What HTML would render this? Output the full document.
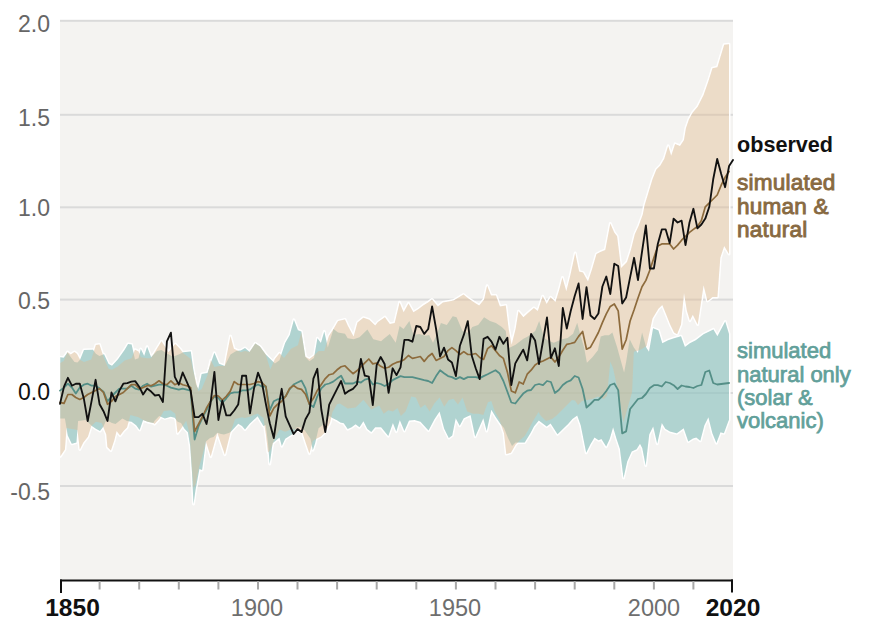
<!DOCTYPE html>
<html><head><meta charset="utf-8">
<style>
html,body{margin:0;padding:0;background:#fff;}
body{width:870px;height:631px;overflow:hidden;position:relative;}
svg{position:absolute;left:0;top:0;}
text{font-family:"Liberation Sans",sans-serif;}
</style></head><body>
<svg width="870" height="631" viewBox="0 0 870 631">
<rect x="0" y="0" width="870" height="631" fill="#ffffff"/>
<rect x="60" y="20" width="673" height="560" fill="#f4f3f1"/>
<rect x="60" y="19.8" width="673" height="2" fill="#dadada"/>
<rect x="60" y="113.8" width="673" height="2" fill="#dadada"/>
<rect x="60" y="206.3" width="673" height="2" fill="#dadada"/>
<rect x="60" y="298.6" width="673" height="2" fill="#dadada"/>
<rect x="60" y="392" width="673" height="2" fill="#dadada"/>
<rect x="60" y="485" width="673" height="2" fill="#dadada"/>
<defs><clipPath id="cu"><polygon points="60.3,357.3 63.7,357.7 67.5,352.5 70.7,357 74.5,362 77.5,362.5 80.2,359.6 84,350.1 92.9,349.8 95.9,353.7 99.4,356 104,354.3 108.6,364.1 112,365.8 117.8,359.5 124.7,349.7 128.1,344 131.6,344.5 135,359.5 138.5,358.3 140.8,349.1 144.2,356 147.1,346.8 151.1,357.2 156.9,351 161.5,349.9 164.9,352.2 173,356.8 178.7,354.5 183.3,352.2 190.8,351.6 193.1,368.3 196,384.4 198.3,389 201.7,374 207.5,372.9 214.4,352.8 219,363.7 224.7,366 230.5,354.5 236.2,351 240.8,350.5 245,348.1 249.6,352.1 255.3,343.5 259.9,346.4 265.7,354.4 270.3,359 274.9,363.6 279.5,360.2 285.2,342.9 289.8,334.9 293.9,319.9 297.9,330.3 301.3,331.4 305.3,356.7 309.4,361.3 314,357.9 317.4,338.3 320.9,342.9 324.3,331.4 327.8,347.5 333.5,329.1 338.1,332.6 345,333.7 347.7,338.3 353.6,339.3 359.5,337.3 367.4,329.5 373.3,339.3 381.1,341.3 383.9,338.8 389.8,333.9 395.7,342.7 399.6,326 403.6,329 409.4,321.1 413.4,334.9 419.3,333.9 425.2,335.8 429.1,334.9 433,342.7 437,333.9 440.9,323.1 446.8,325 452.7,316.2 456.6,317.2 462.5,330.9 468.4,332.9 472.3,327 478.2,325 484.1,317.2 490,321.1 495.9,323.1 501.8,327 505.8,330.9 507.7,348.6 515.6,344.7 523.4,338.8 527.4,336.8 535.2,330.9 539.2,321.1 544.1,337.9 548.3,340.7 553.8,342.8 562.1,339.3 567.6,337.9 573.1,333.8 577.2,322.8 580,333.8 584.1,347.6 586.9,362.8 592.4,357.2 597.9,350.3 600.7,336.6 604.8,335.2 609,335.2 612.4,332.4 617.2,347.6 621.4,362.8 624.1,372.4 626.2,361.4 629.7,339.3 633.8,347.6 637.9,353.1 642.1,332.4 646.2,347.6 649,351.7 653.1,328.3 658.4,330.4 662.3,343.2 668.2,340.2 674.1,338.3 681,336.3 684.9,347.1 689.9,343.2 695.8,340.2 703.6,334.3 713.4,329.4 717.4,336.3 725.2,321.6 729,334 729,420 728.5,420.7 723.9,433.3 720.5,432.2 716.4,443.1 712.4,433.3 708.4,417.2 704.4,425.3 700.3,440.8 696.3,437.4 692.9,438.5 688.3,441.4 683.7,428.2 676.8,433.3 669.9,431.6 665.3,428.7 661.8,423 657.2,443.7 653.2,426.4 649.2,434.5 645.7,465.5 642.3,448.3 640,443.7 636.6,449.3 631.7,451.4 627.2,461.4 623.5,477.9 619.9,448.7 616.6,439 613.1,427.2 609.7,439 606.2,446.6 601.4,439 598.6,440.3 594.5,437.6 590.3,444.5 586.2,452.8 580.7,425.2 577.2,415.5 572.4,419 568.3,423.8 563.4,428.4 557.5,434.3 550.6,423.5 546.7,426.5 538.8,420.6 533.9,426.5 530.4,433.3 524.7,442.5 520.1,442.5 515.5,442.5 512,446 508,438 504,428 500.5,424.1 495.9,417.2 491.3,409.7 486.7,431 483.3,418.3 475.2,436.7 470.6,414.9 463.7,418.3 459.7,425.8 455.7,418.3 452.2,435.6 448.8,437.9 444.2,428.7 439.6,411.4 434.3,419.5 428.5,430.4 420.5,421.8 414.7,420.1 409,420.6 404.4,431 399.8,420.1 396.3,431.6 392.9,422.9 388.3,436.1 381.1,427.2 375.2,427.2 371.3,432.1 367.4,429.1 363.4,421.3 359.5,427.2 355.6,424.2 351.6,427.2 347.7,429.1 343.8,423.2 340.4,422.6 337,420.3 332.4,418 328.9,415.7 324.3,423.7 318.6,428.3 315.1,443.3 312.8,450.2 310.5,438.7 304.8,430.6 300.2,427.2 296.7,427.2 292.7,434.1 288.7,436.4 285.2,438.7 281.8,446.1 279.5,437.5 272.6,443.3 269.7,464 268,443.3 265.7,424.9 263.4,426 257.6,416.3 249.6,423.7 245,429.5 242,426 238.2,423.8 230.6,431.9 228.7,433 224,434.5 221,434 217.3,432.8 213.5,437 210,438 205.9,441.4 202.1,470 199.4,469 195.5,490 193.5,504 192,472.5 190.2,446 187.9,432.2 184.5,428.7 181,423 177.6,421.8 174.7,417.8 170.7,416.7 164.9,418.4 159.2,416.1 154.6,420.7 153.4,423 147.7,421.8 143.1,420.1 139.6,429.9 136.2,425.3 131.6,421.8 127,421 122.4,418.4 115.5,424.1 112,423 106.3,420 103.4,426.4 100,431 95.9,428.7 91.9,425.9 85.6,420.1 78.1,421 76.4,442.5 71.8,443.7 67.8,435.4 64.9,418.4 60.3,418.4"/><polygon points="60.3,363 63.7,361 67.5,352 70.7,354.6 74.5,352 77,354 80.2,360 84,362 91.3,359.5 95.9,345.1 99.4,344.5 104,358.3 108.6,368.7 112,369.8 117.8,366.4 124.7,360.6 131.6,358.3 135,349.7 138.5,351.4 140.8,357.2 147.1,358.3 151.1,358.3 156.9,348.7 161.5,341.3 164.9,346.4 168.4,352.2 175.3,344.1 179.9,348.7 183.3,353.3 190.8,359.1 193.1,370.6 198.3,391.3 201.7,389 207.5,375.2 210.9,360.2 214.4,367.1 219,366 224.7,366 230.5,336.1 233.9,348.7 240.8,352.2 245,351 249.6,352.1 255.3,343.5 259.9,346.4 265.7,354.4 270.3,369.4 274.9,359 279.5,353.3 284.1,357.9 291,348.7 297.9,345.2 301.3,332.6 305.3,356.7 309.4,359 314,355.6 318.6,351 324.3,351 328.9,336.1 333.5,329.1 338.1,321.1 345,319.4 347.7,325.6 353.6,336.4 357.5,322.6 363.4,317.7 369.3,319.7 375.2,325.6 378,322.1 384.9,317.2 389.8,324 394.7,323.1 399.6,302.4 403.6,312.3 408.5,303.4 413.4,312.3 418.3,309.3 423.2,305.4 428.1,302.4 432,299.5 437.9,306.4 442.9,302.4 448.8,301.4 453.7,300.5 458.6,297.5 463.5,294.6 468.4,298.5 474.3,302.4 479.2,305.4 484.1,299.5 487.1,285.7 491,295.6 495.9,295.6 499.9,306.4 505.8,305.4 508.7,329 511.6,344.7 515.6,329 518.5,311.3 523.4,317.2 528,312.9 533.9,308 537.8,311 542.7,296.2 546.7,304 550.6,297.2 555.5,302 559.4,289.3 562.4,277.5 566.3,291.3 570.3,275.5 575.2,253 579.1,271.6 583,272.6 588,281.4 591.9,269.7 596.5,254 600.4,252 605.3,250 610.3,223.5 614.2,232.4 617.1,236.3 621,268 627,261.9 630.9,250 634.8,234.3 638.8,225.5 642.7,214.7 644.7,204.9 652.5,179.3 656.4,169.5 660.4,165.6 664.3,158.7 668.2,145.9 671.2,155.7 675.1,143.9 680,145.9 684,140 685.9,128.3 688.9,119.4 692.8,112.5 697.7,106.7 703.6,94.9 708.5,81.1 712.5,68.3 717.4,67.3 720.3,57.5 724.2,44.7 729,44.2 729,254 724.2,245.9 720.3,257.7 717.4,297 712.5,297 707.5,300.9 703.6,285.2 697.7,324.5 692.8,314.7 689.9,320.6 686.9,310.8 684,293.1 681,324.5 677.1,334.3 674.1,332.4 670.2,324.5 666.3,314.7 662.3,304.9 658.4,308.8 652.5,318.6 646.6,346.1 640,350 633.8,351.7 632.1,392 623.5,422.5 617.8,390 613.1,368.3 610.3,361.4 607,396 604,399 597.9,396.6 592,399 587,400 582,401 578,405 575,400.5 572,400 568,404 562,410 556,416 552,419 546,421 541,416 538.5,412 533,421 528,430.4 524.7,436 520.1,440 515.5,444.8 510.9,452.8 506.3,454 504,433.3 499.4,419.5 494.8,411.4 491.3,401.1 487.9,402.2 483.3,414.9 478.7,413.7 472.9,413.7 467.2,411.4 462.6,397.6 458,404.5 453.4,398.8 448.8,399.9 444.2,406.8 439.6,397.6 434.3,403.4 429.7,411.4 425.1,404.5 420.5,408 415.9,397.6 411.3,396.5 405.5,411.4 400.9,416 397.5,408 392.9,411.4 388.3,410.3 383.7,413.7 379.2,405.6 371.3,409.5 363.4,399.7 355.6,407.5 347.7,408.5 339.9,403.6 337,404.2 332.4,412.2 330.1,422.6 325.5,431.8 320.9,436.4 316.3,438.7 312.8,441 309.4,453.6 305.9,443.3 302.5,432.9 296.7,429.5 291,429.5 285.2,431.8 279.5,429.5 273.7,441 270.3,450.2 268,452.5 265.7,432.9 263.4,418 257.6,413.4 249.6,416.8 245,418 242,417.2 235.1,419 230.6,431.9 224.9,454.7 217.3,432.8 210.7,456.6 205.9,441.4 202.5,455 199.4,466 195.5,484 193.5,488 192,468 189.7,434.5 186.2,420.7 181,428.7 177.6,433.3 175.3,413.8 170.7,410.3 163.8,410.9 159.2,419 154.6,424.1 153.4,423 147.7,421.8 143.1,420.1 138.5,417.2 130.4,414.9 127,427.6 123.5,431 120.1,435.6 116.6,431 114.3,440.2 110.9,450.6 107.4,447.1 106.3,434.5 101.7,423 95.9,421.8 91.3,425.9 87.9,436.8 83.3,442.5 79.8,449.4 77.5,430 72,429 66.5,428 64.9,449.4 60.3,456.3"/></clipPath></defs>
<g stroke="#ffffff" stroke-width="3" stroke-linejoin="round" fill="#ffffff">
<polygon points="60.3,357.3 63.7,357.7 67.5,352.5 70.7,357 74.5,362 77.5,362.5 80.2,359.6 84,350.1 92.9,349.8 95.9,353.7 99.4,356 104,354.3 108.6,364.1 112,365.8 117.8,359.5 124.7,349.7 128.1,344 131.6,344.5 135,359.5 138.5,358.3 140.8,349.1 144.2,356 147.1,346.8 151.1,357.2 156.9,351 161.5,349.9 164.9,352.2 173,356.8 178.7,354.5 183.3,352.2 190.8,351.6 193.1,368.3 196,384.4 198.3,389 201.7,374 207.5,372.9 214.4,352.8 219,363.7 224.7,366 230.5,354.5 236.2,351 240.8,350.5 245,348.1 249.6,352.1 255.3,343.5 259.9,346.4 265.7,354.4 270.3,359 274.9,363.6 279.5,360.2 285.2,342.9 289.8,334.9 293.9,319.9 297.9,330.3 301.3,331.4 305.3,356.7 309.4,361.3 314,357.9 317.4,338.3 320.9,342.9 324.3,331.4 327.8,347.5 333.5,329.1 338.1,332.6 345,333.7 347.7,338.3 353.6,339.3 359.5,337.3 367.4,329.5 373.3,339.3 381.1,341.3 383.9,338.8 389.8,333.9 395.7,342.7 399.6,326 403.6,329 409.4,321.1 413.4,334.9 419.3,333.9 425.2,335.8 429.1,334.9 433,342.7 437,333.9 440.9,323.1 446.8,325 452.7,316.2 456.6,317.2 462.5,330.9 468.4,332.9 472.3,327 478.2,325 484.1,317.2 490,321.1 495.9,323.1 501.8,327 505.8,330.9 507.7,348.6 515.6,344.7 523.4,338.8 527.4,336.8 535.2,330.9 539.2,321.1 544.1,337.9 548.3,340.7 553.8,342.8 562.1,339.3 567.6,337.9 573.1,333.8 577.2,322.8 580,333.8 584.1,347.6 586.9,362.8 592.4,357.2 597.9,350.3 600.7,336.6 604.8,335.2 609,335.2 612.4,332.4 617.2,347.6 621.4,362.8 624.1,372.4 626.2,361.4 629.7,339.3 633.8,347.6 637.9,353.1 642.1,332.4 646.2,347.6 649,351.7 653.1,328.3 658.4,330.4 662.3,343.2 668.2,340.2 674.1,338.3 681,336.3 684.9,347.1 689.9,343.2 695.8,340.2 703.6,334.3 713.4,329.4 717.4,336.3 725.2,321.6 729,334 729,420 728.5,420.7 723.9,433.3 720.5,432.2 716.4,443.1 712.4,433.3 708.4,417.2 704.4,425.3 700.3,440.8 696.3,437.4 692.9,438.5 688.3,441.4 683.7,428.2 676.8,433.3 669.9,431.6 665.3,428.7 661.8,423 657.2,443.7 653.2,426.4 649.2,434.5 645.7,465.5 642.3,448.3 640,443.7 636.6,449.3 631.7,451.4 627.2,461.4 623.5,477.9 619.9,448.7 616.6,439 613.1,427.2 609.7,439 606.2,446.6 601.4,439 598.6,440.3 594.5,437.6 590.3,444.5 586.2,452.8 580.7,425.2 577.2,415.5 572.4,419 568.3,423.8 563.4,428.4 557.5,434.3 550.6,423.5 546.7,426.5 538.8,420.6 533.9,426.5 530.4,433.3 524.7,442.5 520.1,442.5 515.5,442.5 512,446 508,438 504,428 500.5,424.1 495.9,417.2 491.3,409.7 486.7,431 483.3,418.3 475.2,436.7 470.6,414.9 463.7,418.3 459.7,425.8 455.7,418.3 452.2,435.6 448.8,437.9 444.2,428.7 439.6,411.4 434.3,419.5 428.5,430.4 420.5,421.8 414.7,420.1 409,420.6 404.4,431 399.8,420.1 396.3,431.6 392.9,422.9 388.3,436.1 381.1,427.2 375.2,427.2 371.3,432.1 367.4,429.1 363.4,421.3 359.5,427.2 355.6,424.2 351.6,427.2 347.7,429.1 343.8,423.2 340.4,422.6 337,420.3 332.4,418 328.9,415.7 324.3,423.7 318.6,428.3 315.1,443.3 312.8,450.2 310.5,438.7 304.8,430.6 300.2,427.2 296.7,427.2 292.7,434.1 288.7,436.4 285.2,438.7 281.8,446.1 279.5,437.5 272.6,443.3 269.7,464 268,443.3 265.7,424.9 263.4,426 257.6,416.3 249.6,423.7 245,429.5 242,426 238.2,423.8 230.6,431.9 228.7,433 224,434.5 221,434 217.3,432.8 213.5,437 210,438 205.9,441.4 202.1,470 199.4,469 195.5,490 193.5,504 192,472.5 190.2,446 187.9,432.2 184.5,428.7 181,423 177.6,421.8 174.7,417.8 170.7,416.7 164.9,418.4 159.2,416.1 154.6,420.7 153.4,423 147.7,421.8 143.1,420.1 139.6,429.9 136.2,425.3 131.6,421.8 127,421 122.4,418.4 115.5,424.1 112,423 106.3,420 103.4,426.4 100,431 95.9,428.7 91.9,425.9 85.6,420.1 78.1,421 76.4,442.5 71.8,443.7 67.8,435.4 64.9,418.4 60.3,418.4"/>
<polygon points="60.3,363 63.7,361 67.5,352 70.7,354.6 74.5,352 77,354 80.2,360 84,362 91.3,359.5 95.9,345.1 99.4,344.5 104,358.3 108.6,368.7 112,369.8 117.8,366.4 124.7,360.6 131.6,358.3 135,349.7 138.5,351.4 140.8,357.2 147.1,358.3 151.1,358.3 156.9,348.7 161.5,341.3 164.9,346.4 168.4,352.2 175.3,344.1 179.9,348.7 183.3,353.3 190.8,359.1 193.1,370.6 198.3,391.3 201.7,389 207.5,375.2 210.9,360.2 214.4,367.1 219,366 224.7,366 230.5,336.1 233.9,348.7 240.8,352.2 245,351 249.6,352.1 255.3,343.5 259.9,346.4 265.7,354.4 270.3,369.4 274.9,359 279.5,353.3 284.1,357.9 291,348.7 297.9,345.2 301.3,332.6 305.3,356.7 309.4,359 314,355.6 318.6,351 324.3,351 328.9,336.1 333.5,329.1 338.1,321.1 345,319.4 347.7,325.6 353.6,336.4 357.5,322.6 363.4,317.7 369.3,319.7 375.2,325.6 378,322.1 384.9,317.2 389.8,324 394.7,323.1 399.6,302.4 403.6,312.3 408.5,303.4 413.4,312.3 418.3,309.3 423.2,305.4 428.1,302.4 432,299.5 437.9,306.4 442.9,302.4 448.8,301.4 453.7,300.5 458.6,297.5 463.5,294.6 468.4,298.5 474.3,302.4 479.2,305.4 484.1,299.5 487.1,285.7 491,295.6 495.9,295.6 499.9,306.4 505.8,305.4 508.7,329 511.6,344.7 515.6,329 518.5,311.3 523.4,317.2 528,312.9 533.9,308 537.8,311 542.7,296.2 546.7,304 550.6,297.2 555.5,302 559.4,289.3 562.4,277.5 566.3,291.3 570.3,275.5 575.2,253 579.1,271.6 583,272.6 588,281.4 591.9,269.7 596.5,254 600.4,252 605.3,250 610.3,223.5 614.2,232.4 617.1,236.3 621,268 627,261.9 630.9,250 634.8,234.3 638.8,225.5 642.7,214.7 644.7,204.9 652.5,179.3 656.4,169.5 660.4,165.6 664.3,158.7 668.2,145.9 671.2,155.7 675.1,143.9 680,145.9 684,140 685.9,128.3 688.9,119.4 692.8,112.5 697.7,106.7 703.6,94.9 708.5,81.1 712.5,68.3 717.4,67.3 720.3,57.5 724.2,44.7 729,44.2 729,254 724.2,245.9 720.3,257.7 717.4,297 712.5,297 707.5,300.9 703.6,285.2 697.7,324.5 692.8,314.7 689.9,320.6 686.9,310.8 684,293.1 681,324.5 677.1,334.3 674.1,332.4 670.2,324.5 666.3,314.7 662.3,304.9 658.4,308.8 652.5,318.6 646.6,346.1 640,350 633.8,351.7 632.1,392 623.5,422.5 617.8,390 613.1,368.3 610.3,361.4 607,396 604,399 597.9,396.6 592,399 587,400 582,401 578,405 575,400.5 572,400 568,404 562,410 556,416 552,419 546,421 541,416 538.5,412 533,421 528,430.4 524.7,436 520.1,440 515.5,444.8 510.9,452.8 506.3,454 504,433.3 499.4,419.5 494.8,411.4 491.3,401.1 487.9,402.2 483.3,414.9 478.7,413.7 472.9,413.7 467.2,411.4 462.6,397.6 458,404.5 453.4,398.8 448.8,399.9 444.2,406.8 439.6,397.6 434.3,403.4 429.7,411.4 425.1,404.5 420.5,408 415.9,397.6 411.3,396.5 405.5,411.4 400.9,416 397.5,408 392.9,411.4 388.3,410.3 383.7,413.7 379.2,405.6 371.3,409.5 363.4,399.7 355.6,407.5 347.7,408.5 339.9,403.6 337,404.2 332.4,412.2 330.1,422.6 325.5,431.8 320.9,436.4 316.3,438.7 312.8,441 309.4,453.6 305.9,443.3 302.5,432.9 296.7,429.5 291,429.5 285.2,431.8 279.5,429.5 273.7,441 270.3,450.2 268,452.5 265.7,432.9 263.4,418 257.6,413.4 249.6,416.8 245,418 242,417.2 235.1,419 230.6,431.9 224.9,454.7 217.3,432.8 210.7,456.6 205.9,441.4 202.5,455 199.4,466 195.5,484 193.5,488 192,468 189.7,434.5 186.2,420.7 181,428.7 177.6,433.3 175.3,413.8 170.7,410.3 163.8,410.9 159.2,419 154.6,424.1 153.4,423 147.7,421.8 143.1,420.1 138.5,417.2 130.4,414.9 127,427.6 123.5,431 120.1,435.6 116.6,431 114.3,440.2 110.9,450.6 107.4,447.1 106.3,434.5 101.7,423 95.9,421.8 91.3,425.9 87.9,436.8 83.3,442.5 79.8,449.4 77.5,430 72,429 66.5,428 64.9,449.4 60.3,456.3"/>
</g>
<g clip-path="url(#cu)">
<rect x="60" y="20" width="673" height="560" fill="#f4f3f1"/>
<rect x="60" y="19.8" width="673" height="2" fill="#dadada"/>
<rect x="60" y="113.8" width="673" height="2" fill="#dadada"/>
<rect x="60" y="206.3" width="673" height="2" fill="#dadada"/>
<rect x="60" y="298.6" width="673" height="2" fill="#dadada"/>
<rect x="60" y="392" width="673" height="2" fill="#dadada"/>
<rect x="60" y="485" width="673" height="2" fill="#dadada"/>
</g>
<polygon points="60.3,357.3 63.7,357.7 67.5,352.5 70.7,357 74.5,362 77.5,362.5 80.2,359.6 84,350.1 92.9,349.8 95.9,353.7 99.4,356 104,354.3 108.6,364.1 112,365.8 117.8,359.5 124.7,349.7 128.1,344 131.6,344.5 135,359.5 138.5,358.3 140.8,349.1 144.2,356 147.1,346.8 151.1,357.2 156.9,351 161.5,349.9 164.9,352.2 173,356.8 178.7,354.5 183.3,352.2 190.8,351.6 193.1,368.3 196,384.4 198.3,389 201.7,374 207.5,372.9 214.4,352.8 219,363.7 224.7,366 230.5,354.5 236.2,351 240.8,350.5 245,348.1 249.6,352.1 255.3,343.5 259.9,346.4 265.7,354.4 270.3,359 274.9,363.6 279.5,360.2 285.2,342.9 289.8,334.9 293.9,319.9 297.9,330.3 301.3,331.4 305.3,356.7 309.4,361.3 314,357.9 317.4,338.3 320.9,342.9 324.3,331.4 327.8,347.5 333.5,329.1 338.1,332.6 345,333.7 347.7,338.3 353.6,339.3 359.5,337.3 367.4,329.5 373.3,339.3 381.1,341.3 383.9,338.8 389.8,333.9 395.7,342.7 399.6,326 403.6,329 409.4,321.1 413.4,334.9 419.3,333.9 425.2,335.8 429.1,334.9 433,342.7 437,333.9 440.9,323.1 446.8,325 452.7,316.2 456.6,317.2 462.5,330.9 468.4,332.9 472.3,327 478.2,325 484.1,317.2 490,321.1 495.9,323.1 501.8,327 505.8,330.9 507.7,348.6 515.6,344.7 523.4,338.8 527.4,336.8 535.2,330.9 539.2,321.1 544.1,337.9 548.3,340.7 553.8,342.8 562.1,339.3 567.6,337.9 573.1,333.8 577.2,322.8 580,333.8 584.1,347.6 586.9,362.8 592.4,357.2 597.9,350.3 600.7,336.6 604.8,335.2 609,335.2 612.4,332.4 617.2,347.6 621.4,362.8 624.1,372.4 626.2,361.4 629.7,339.3 633.8,347.6 637.9,353.1 642.1,332.4 646.2,347.6 649,351.7 653.1,328.3 658.4,330.4 662.3,343.2 668.2,340.2 674.1,338.3 681,336.3 684.9,347.1 689.9,343.2 695.8,340.2 703.6,334.3 713.4,329.4 717.4,336.3 725.2,321.6 729,334 729,420 728.5,420.7 723.9,433.3 720.5,432.2 716.4,443.1 712.4,433.3 708.4,417.2 704.4,425.3 700.3,440.8 696.3,437.4 692.9,438.5 688.3,441.4 683.7,428.2 676.8,433.3 669.9,431.6 665.3,428.7 661.8,423 657.2,443.7 653.2,426.4 649.2,434.5 645.7,465.5 642.3,448.3 640,443.7 636.6,449.3 631.7,451.4 627.2,461.4 623.5,477.9 619.9,448.7 616.6,439 613.1,427.2 609.7,439 606.2,446.6 601.4,439 598.6,440.3 594.5,437.6 590.3,444.5 586.2,452.8 580.7,425.2 577.2,415.5 572.4,419 568.3,423.8 563.4,428.4 557.5,434.3 550.6,423.5 546.7,426.5 538.8,420.6 533.9,426.5 530.4,433.3 524.7,442.5 520.1,442.5 515.5,442.5 512,446 508,438 504,428 500.5,424.1 495.9,417.2 491.3,409.7 486.7,431 483.3,418.3 475.2,436.7 470.6,414.9 463.7,418.3 459.7,425.8 455.7,418.3 452.2,435.6 448.8,437.9 444.2,428.7 439.6,411.4 434.3,419.5 428.5,430.4 420.5,421.8 414.7,420.1 409,420.6 404.4,431 399.8,420.1 396.3,431.6 392.9,422.9 388.3,436.1 381.1,427.2 375.2,427.2 371.3,432.1 367.4,429.1 363.4,421.3 359.5,427.2 355.6,424.2 351.6,427.2 347.7,429.1 343.8,423.2 340.4,422.6 337,420.3 332.4,418 328.9,415.7 324.3,423.7 318.6,428.3 315.1,443.3 312.8,450.2 310.5,438.7 304.8,430.6 300.2,427.2 296.7,427.2 292.7,434.1 288.7,436.4 285.2,438.7 281.8,446.1 279.5,437.5 272.6,443.3 269.7,464 268,443.3 265.7,424.9 263.4,426 257.6,416.3 249.6,423.7 245,429.5 242,426 238.2,423.8 230.6,431.9 228.7,433 224,434.5 221,434 217.3,432.8 213.5,437 210,438 205.9,441.4 202.1,470 199.4,469 195.5,490 193.5,504 192,472.5 190.2,446 187.9,432.2 184.5,428.7 181,423 177.6,421.8 174.7,417.8 170.7,416.7 164.9,418.4 159.2,416.1 154.6,420.7 153.4,423 147.7,421.8 143.1,420.1 139.6,429.9 136.2,425.3 131.6,421.8 127,421 122.4,418.4 115.5,424.1 112,423 106.3,420 103.4,426.4 100,431 95.9,428.7 91.9,425.9 85.6,420.1 78.1,421 76.4,442.5 71.8,443.7 67.8,435.4 64.9,418.4 60.3,418.4" fill="rgb(147,196,194)" fill-opacity="0.7"/>
<polygon points="60.3,363 63.7,361 67.5,352 70.7,354.6 74.5,352 77,354 80.2,360 84,362 91.3,359.5 95.9,345.1 99.4,344.5 104,358.3 108.6,368.7 112,369.8 117.8,366.4 124.7,360.6 131.6,358.3 135,349.7 138.5,351.4 140.8,357.2 147.1,358.3 151.1,358.3 156.9,348.7 161.5,341.3 164.9,346.4 168.4,352.2 175.3,344.1 179.9,348.7 183.3,353.3 190.8,359.1 193.1,370.6 198.3,391.3 201.7,389 207.5,375.2 210.9,360.2 214.4,367.1 219,366 224.7,366 230.5,336.1 233.9,348.7 240.8,352.2 245,351 249.6,352.1 255.3,343.5 259.9,346.4 265.7,354.4 270.3,369.4 274.9,359 279.5,353.3 284.1,357.9 291,348.7 297.9,345.2 301.3,332.6 305.3,356.7 309.4,359 314,355.6 318.6,351 324.3,351 328.9,336.1 333.5,329.1 338.1,321.1 345,319.4 347.7,325.6 353.6,336.4 357.5,322.6 363.4,317.7 369.3,319.7 375.2,325.6 378,322.1 384.9,317.2 389.8,324 394.7,323.1 399.6,302.4 403.6,312.3 408.5,303.4 413.4,312.3 418.3,309.3 423.2,305.4 428.1,302.4 432,299.5 437.9,306.4 442.9,302.4 448.8,301.4 453.7,300.5 458.6,297.5 463.5,294.6 468.4,298.5 474.3,302.4 479.2,305.4 484.1,299.5 487.1,285.7 491,295.6 495.9,295.6 499.9,306.4 505.8,305.4 508.7,329 511.6,344.7 515.6,329 518.5,311.3 523.4,317.2 528,312.9 533.9,308 537.8,311 542.7,296.2 546.7,304 550.6,297.2 555.5,302 559.4,289.3 562.4,277.5 566.3,291.3 570.3,275.5 575.2,253 579.1,271.6 583,272.6 588,281.4 591.9,269.7 596.5,254 600.4,252 605.3,250 610.3,223.5 614.2,232.4 617.1,236.3 621,268 627,261.9 630.9,250 634.8,234.3 638.8,225.5 642.7,214.7 644.7,204.9 652.5,179.3 656.4,169.5 660.4,165.6 664.3,158.7 668.2,145.9 671.2,155.7 675.1,143.9 680,145.9 684,140 685.9,128.3 688.9,119.4 692.8,112.5 697.7,106.7 703.6,94.9 708.5,81.1 712.5,68.3 717.4,67.3 720.3,57.5 724.2,44.7 729,44.2 729,254 724.2,245.9 720.3,257.7 717.4,297 712.5,297 707.5,300.9 703.6,285.2 697.7,324.5 692.8,314.7 689.9,320.6 686.9,310.8 684,293.1 681,324.5 677.1,334.3 674.1,332.4 670.2,324.5 666.3,314.7 662.3,304.9 658.4,308.8 652.5,318.6 646.6,346.1 640,350 633.8,351.7 632.1,392 623.5,422.5 617.8,390 613.1,368.3 610.3,361.4 607,396 604,399 597.9,396.6 592,399 587,400 582,401 578,405 575,400.5 572,400 568,404 562,410 556,416 552,419 546,421 541,416 538.5,412 533,421 528,430.4 524.7,436 520.1,440 515.5,444.8 510.9,452.8 506.3,454 504,433.3 499.4,419.5 494.8,411.4 491.3,401.1 487.9,402.2 483.3,414.9 478.7,413.7 472.9,413.7 467.2,411.4 462.6,397.6 458,404.5 453.4,398.8 448.8,399.9 444.2,406.8 439.6,397.6 434.3,403.4 429.7,411.4 425.1,404.5 420.5,408 415.9,397.6 411.3,396.5 405.5,411.4 400.9,416 397.5,408 392.9,411.4 388.3,410.3 383.7,413.7 379.2,405.6 371.3,409.5 363.4,399.7 355.6,407.5 347.7,408.5 339.9,403.6 337,404.2 332.4,412.2 330.1,422.6 325.5,431.8 320.9,436.4 316.3,438.7 312.8,441 309.4,453.6 305.9,443.3 302.5,432.9 296.7,429.5 291,429.5 285.2,431.8 279.5,429.5 273.7,441 270.3,450.2 268,452.5 265.7,432.9 263.4,418 257.6,413.4 249.6,416.8 245,418 242,417.2 235.1,419 230.6,431.9 224.9,454.7 217.3,432.8 210.7,456.6 205.9,441.4 202.5,455 199.4,466 195.5,484 193.5,488 192,468 189.7,434.5 186.2,420.7 181,428.7 177.6,433.3 175.3,413.8 170.7,410.3 163.8,410.9 159.2,419 154.6,424.1 153.4,423 147.7,421.8 143.1,420.1 138.5,417.2 130.4,414.9 127,427.6 123.5,431 120.1,435.6 116.6,431 114.3,440.2 110.9,450.6 107.4,447.1 106.3,434.5 101.7,423 95.9,421.8 91.3,425.9 87.9,436.8 83.3,442.5 79.8,449.4 77.5,430 72,429 66.5,428 64.9,449.4 60.3,456.3" fill="rgb(224,184,140)" fill-opacity="0.4"/>
<g fill="none" stroke-linejoin="round" stroke-linecap="round">
<polyline points="60,390.6 64,387.6 67.9,383.7 71.9,387.6 75.8,393.5 79.8,387.6 83.8,384.7 87.7,383.7 91.7,385.7 95.6,385.7 99.6,388.6 103.5,391.6 107.5,401.4 111.5,396.5 115.4,392.5 119.4,388.6 123.3,388.6 127.3,388.6 131.3,385.7 135.2,388.6 139.2,389.6 143.1,385.7 147.1,383.7 151.1,386.7 155,385.7 159,384.7 162.9,384.7 166.9,385.7 170.9,387.6 174.8,388.6 178.8,389.6 182.7,388.6 186.7,389.6 190.6,390.6 194.6,439.5 198.6,426 202.5,417.5 206.5,410 210.4,402 214.4,396.5 218.4,398 222.3,403 226.3,398.3 230.2,393.4 234.2,392.4 238.2,392.4 242.1,390.4 246.1,390.4 250,389.4 254,386.5 258,384.5 261.9,386.5 265.9,386.5 269.8,410.1 273.8,401.2 277.7,399.3 281.7,398.3 285.7,396.3 289.6,389.4 293.6,384.5 297.5,382.5 301.5,380.6 305.5,388.4 309.4,404.2 313.4,407.1 317.3,396.3 321.3,388.4 325.3,384.5 329.2,383.5 333.2,381.6 337.1,378.6 341.1,375.7 345,383.5 349,383.5 353,383.5 356.9,381.6 360.9,382.5 364.8,379.6 368.8,378.6 372.8,384.5 376.7,383 380.7,384 384.6,386 388.6,384 392.6,380.1 396.5,378.1 400.5,376.1 404.4,377.1 408.4,377.1 412.4,377.1 416.3,378.1 420.3,379.1 424.2,380.1 428.2,381 432.1,383 436.1,376.1 440.1,370.2 444,373.2 448,376.1 451.9,377.1 455.9,379.1 459.9,377.1 463.8,379.1 467.8,377.1 471.7,377.1 475.7,377.1 479.7,378.1 483.6,376.1 487.6,374.2 491.5,372.2 495.5,370.2 499.4,373.2 503.4,381 507.4,391.7 511.3,402.5 515.3,403.5 519.2,398.5 523.2,393.6 527.2,390.7 531.1,390 535.1,385 539,384 543,385.2 547,381 550.9,382 554.9,393 558.8,390 562.8,385 566.8,382 570.7,380.3 574.7,376 578.6,377.5 582.6,389 586.5,407.5 590.5,404 594.5,399.9 598.4,399.9 602.4,396 606.3,391 610.3,385 614.3,383.5 618.2,390.1 622.2,433.4 626.1,431.4 630.1,409 634.1,404 638,399 642,398 645.9,394 649.9,388 653.9,385.2 657.8,385.2 661.8,386.5 665.7,382 669.7,383 673.6,385.2 677.6,389 681.6,385.5 685.5,386.5 689.5,387 693.4,388 697.4,386 701.4,385 705.3,372 709.3,370.5 713.2,383 717.2,384.5 721.2,384 725.1,383.5 729.1,383" stroke="#548f87" stroke-width="1.8"/>
<polyline points="60,402.4 64,403.4 67.9,394.5 71.9,394.5 75.8,397.5 79.8,399.4 83.8,397.5 87.7,394.5 91.7,392.5 95.6,390.6 99.6,388.6 103.5,392.5 107.5,404.3 111.5,401.4 115.4,396.5 119.4,394.5 123.3,392.5 127.3,388.6 131.3,384.7 135.2,384.7 139.2,388.6 143.1,387.6 147.1,385.7 151.1,385.7 155,383.7 159,380.8 162.9,383.7 166.9,384.7 170.9,380.8 174.8,384.7 178.8,382.7 182.7,384.7 186.7,385.7 190.6,387.6 194.6,431.5 198.6,424 202.5,416.5 206.5,408 210.4,401.5 214.4,395.5 218.4,396 222.3,400 226.3,396.3 230.2,391.4 234.2,381.6 238.2,384.5 242.1,384.5 246.1,384.5 250,384.5 254,383.5 258,381.6 261.9,382.5 265.9,386.5 269.8,416 273.8,408.1 277.7,404.2 281.7,401.2 285.7,396.3 289.6,388.4 293.6,385.5 297.5,388.4 301.5,389.4 305.5,394.3 309.4,404.2 313.4,398.3 317.3,390.4 321.3,384.5 325.3,378.6 329.2,374.7 333.2,373.7 337.1,369.8 341.1,366.8 345,365.8 349,369.8 353,373.7 356.9,370.8 360.9,366.8 364.8,362.9 368.8,359 372.8,363.9 376.7,363 380.7,366.3 384.6,368.3 388.6,367.3 392.6,364.3 396.5,362.4 400.5,361.4 404.4,359.4 408.4,355.5 412.4,358.4 416.3,357.5 420.3,356.5 424.2,361.4 428.2,356.5 432.1,353.5 436.1,360.4 440.1,358.4 444,356.5 448,350.6 451.9,347.6 455.9,350.6 459.9,354.5 463.8,351.6 467.8,354.5 471.7,354.5 475.7,353.5 479.7,357.5 483.6,359.4 487.6,348.6 491.5,345.7 495.5,350.6 499.4,355.5 503.4,358.4 507.4,372.2 511.3,390.9 515.3,392.8 519.2,382 523.2,384 527.2,374.2 531.1,370.2 535.1,365 539,362.4 543,361 547,359 550.9,357.1 554.9,362 558.8,357.1 562.8,350.2 566.8,344.3 570.7,343.5 574.7,342.4 578.6,336.4 582.6,331.5 586.5,349.2 590.5,347.2 594.5,339.8 598.4,332.5 602.4,322.6 606.3,313.8 610.3,306.4 614.3,304 618.2,310.9 622.2,349.2 626.1,340 630.1,321 634.1,309.8 638,298 642,286.8 645.9,280.4 649.9,270 653.9,257.8 657.8,246 661.8,243.9 665.7,243.9 669.7,243.9 673.6,249 677.6,245.1 681.6,240.2 685.5,236.3 689.5,232.4 693.4,229.4 697.4,226.5 701.4,220.6 705.3,206.8 709.3,202.9 713.2,199 717.2,195 721.2,185.2 725.1,177.3 729.1,171.4" stroke="#8d6b3c" stroke-width="1.7"/>
<polyline points="60,403.9 64,386.7 67.9,377.8 71.9,385.7 75.8,383.7 79.8,383.7 83.8,398.4 87.7,421 91.7,400.4 95.6,379.8 99.6,404.3 103.5,411.2 107.5,421 111.5,392.5 115.4,401.4 119.4,390.6 123.3,383.7 127.3,383.1 131.3,381.7 135.2,381.1 139.2,386.7 143.1,394.5 147.1,388.6 151.1,391.6 155,395.5 159,394.9 162.9,402 166.9,341.4 170.9,332.6 174.8,376.8 178.8,384.7 182.7,372.5 186.7,381.7 190.6,390.6 194.6,417.1 198.6,417.1 202.5,413.8 206.5,424 210.4,404.3 214.4,371.9 218.4,420 222.3,400.6 226.3,415.4 230.2,415.4 234.2,410.5 238.2,404.6 242.1,375.7 246.1,375.7 250,413.4 254,388.4 258,372.7 261.9,382.5 265.9,404.2 269.8,423.2 273.8,438 277.7,411.4 281.7,388.8 285.7,416.4 289.6,425.2 293.6,434 297.5,429.1 301.5,432.1 305.5,419.3 309.4,412.4 313.4,378.6 317.3,368.8 321.3,409.5 325.3,432.1 329.2,404.6 333.2,396.7 337.1,388.8 341.1,381 345,393.8 349,390.8 353,388.8 356.9,384.5 360.9,359 364.8,375.7 368.8,376.7 372.8,405.1 376.7,364.9 380.7,357 384.6,364 388.6,392.8 392.6,368.3 396.5,375.1 400.5,367.3 404.4,339.8 408.4,339.8 412.4,341.7 416.3,326 420.3,327 424.2,333.9 428.2,329 432.1,306.4 436.1,329 440.1,356.5 444,347.6 448,359.4 451.9,362.4 455.9,376.1 459.9,345.7 463.8,334.9 467.8,321.1 471.7,355.5 475.7,368.3 479.7,379.1 483.6,338.8 487.6,336.8 491.5,341.7 495.5,349.6 499.4,336.8 503.4,343.7 507.4,337.8 511.3,385 515.3,363.4 519.2,356.5 523.2,349.6 527.2,360.4 531.1,334 535.1,340.5 539,364 543,341 547,317.5 550.9,358 554.9,348.3 558.8,366 562.8,308 566.8,328.6 570.7,311 574.7,296 578.6,283.5 582.6,319 586.5,287.2 590.5,315.5 594.5,319 598.4,313.5 602.4,286.5 606.3,276.5 610.3,294 614.3,263.7 618.2,266 622.2,303.5 626.1,297.5 630.1,277.4 634.1,257.8 638,280 642,251.8 645.9,225.5 649.9,268.5 653.9,268.5 657.8,243.9 661.8,229.4 665.7,229.4 669.7,243.2 673.6,218.6 677.6,222.5 681.6,220.6 685.5,245.1 689.5,222.5 693.4,208.8 697.4,228.4 701.4,224.5 705.3,218.6 709.3,206.8 713.2,179.3 717.2,159 721.2,174 725.1,187.2 729.1,166 733,160" stroke="#111111" stroke-width="1.85"/>
</g>
<rect x="60" y="579.5" width="673" height="2" fill="#111"/>
<rect x="60" y="579.5" width="2" height="13.5" fill="#111"/>
<rect x="731" y="579.5" width="2" height="13" fill="#111"/>
<rect x="98.6" y="581" width="2" height="8.5" fill="#a8a8a8"/>
<rect x="138.2" y="581" width="2" height="8.5" fill="#a8a8a8"/>
<rect x="177.8" y="581" width="2" height="8.5" fill="#a8a8a8"/>
<rect x="217.4" y="581" width="2" height="8.5" fill="#a8a8a8"/>
<rect x="257" y="581" width="2" height="8.5" fill="#a8a8a8"/>
<rect x="296.5" y="581" width="2" height="8.5" fill="#a8a8a8"/>
<rect x="336.1" y="581" width="2" height="8.5" fill="#a8a8a8"/>
<rect x="375.7" y="581" width="2" height="8.5" fill="#a8a8a8"/>
<rect x="415.3" y="581" width="2" height="8.5" fill="#a8a8a8"/>
<rect x="454.9" y="581" width="2" height="8.5" fill="#a8a8a8"/>
<rect x="494.5" y="581" width="2" height="8.5" fill="#a8a8a8"/>
<rect x="534.1" y="581" width="2" height="8.5" fill="#a8a8a8"/>
<rect x="573.7" y="581" width="2" height="8.5" fill="#a8a8a8"/>
<rect x="613.3" y="581" width="2" height="8.5" fill="#a8a8a8"/>
<rect x="652.9" y="581" width="2" height="8.5" fill="#a8a8a8"/>
<rect x="692.4" y="581" width="2" height="8.5" fill="#a8a8a8"/>
<g font-size="23" fill="#666" text-anchor="end">
<text x="50" y="32">2.0</text>
<text x="50" y="125.5">1.5</text>
<text x="50" y="215.5">1.0</text>
<text x="50" y="309">0.5</text>
<text x="50" y="400" fill="#111">0.0</text>
<text x="50" y="500">-0.5</text>
</g>
<g font-size="23.5" text-anchor="middle">
<text x="72.5" y="616.3" font-weight="bold" font-size="24.6" fill="#111">1850</text>
<text x="257" y="616" fill="#6e6e6e">1900</text>
<text x="455" y="616" fill="#6e6e6e">1950</text>
<text x="654" y="616" fill="#6e6e6e">2000</text>
<text x="733" y="616.3" font-weight="bold" font-size="24.6" fill="#111">2020</text>
</g>
<text x="737" y="152" font-size="21.6" font-weight="bold" fill="#111">observed</text>
<g font-size="22.6" fill="#886a42" stroke="#886a42" stroke-width="0.9" letter-spacing="0.2">
<text x="737" y="190.3">simulated</text>
<text x="737" y="213.8">human &amp;</text>
<text x="737" y="237">natural</text>
</g>
<g font-size="22" fill="#62a09a" stroke="#62a09a" stroke-width="0.75">
<text x="737" y="358.3">simulated</text>
<text x="737" y="381.6">natural only</text>
<text x="737" y="404.9">(solar &amp;</text>
<text x="737" y="428.2">volcanic)</text>
</g>
</svg>
</body></html>
